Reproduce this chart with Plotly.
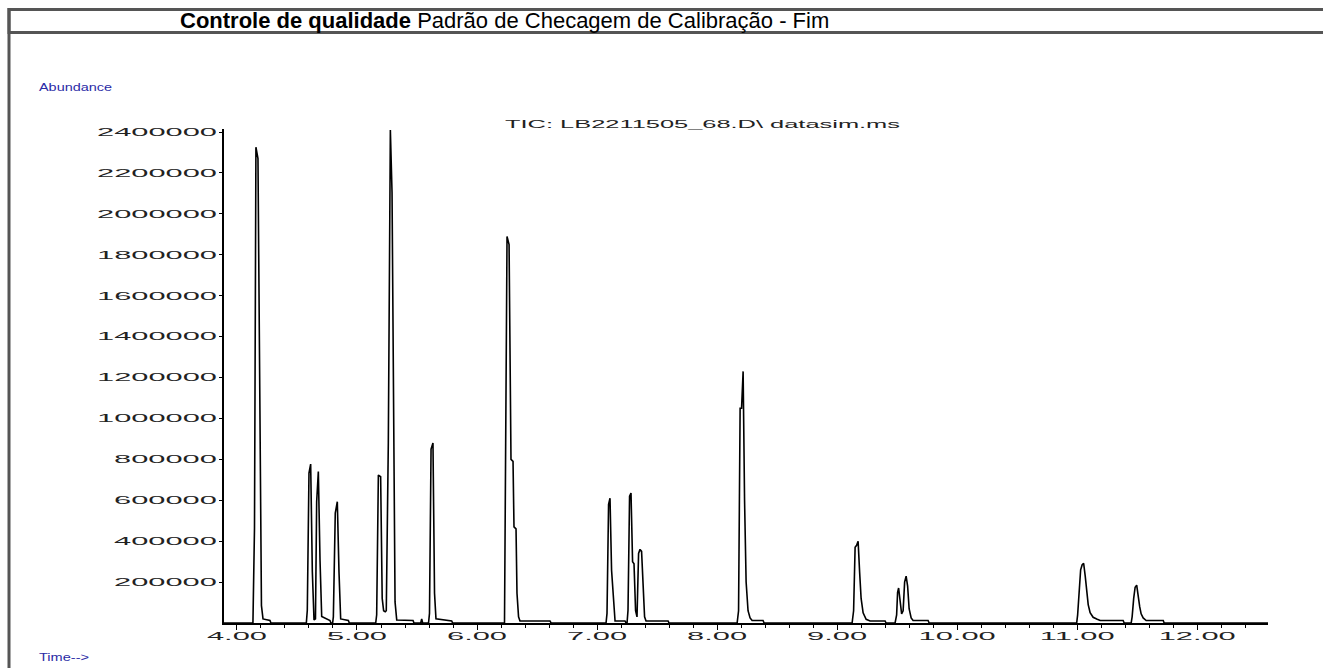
import plotly.graph_objects as go

# ---------------- data ----------------
title_bold = "Controle de qualidade"
title_rest = "Padrão de Checagem de Calibração - Fim"
trace_label = "TIC: LB2211505_68.D\\ datasim.ms"
y_axis_label = "Abundance"
x_axis_label = "Time-->"

x_tick_values = [4, 5, 6, 7, 8, 9, 10, 11, 12]
y_tick_values = [200000, 400000, 600000, 800000, 1000000, 1200000,
                 1400000, 1600000, 1800000, 2000000, 2200000, 2400000]

# retention time (min) and abundance of the TIC trace, peak by peak
scan_time = [
    3.892,
    4.133, 4.146, 4.158, 4.175, 4.192, 4.204, 4.217, 4.275, 4.283,
    4.578, 4.586, 4.600, 4.614, 4.628, 4.642, 4.654, 4.664, 4.678, 4.692, 4.706, 4.775, 4.783,
    4.797, 4.803, 4.819, 4.836, 4.850, 4.864, 4.928, 4.936,
    5.156, 5.164, 5.178, 5.197, 5.210, 5.222, 5.235,
    5.244, 5.261, 5.278, 5.292, 5.303, 5.317, 5.331, 5.467, 5.475,
    5.531, 5.539, 5.547,
    5.596, 5.604, 5.617, 5.633, 5.646, 5.658, 5.789, 5.797,
    6.229, 6.2375, 6.250, 6.267, 6.283, 6.300, 6.308, 6.325, 6.333, 6.346, 6.358, 6.608, 6.617,
    7.075, 7.083, 7.096, 7.108, 7.121, 7.142, 7.150, 7.233, 7.242,
    7.250, 7.258, 7.271, 7.283, 7.296, 7.308, 7.321, 7.333,
    7.346, 7.358, 7.371, 7.383, 7.396, 7.408, 7.592, 7.600,
    8.167, 8.179, 8.192, 8.204, 8.217, 8.229, 8.242, 8.258, 8.275, 8.292, 8.383, 8.392,
    9.125, 9.1375, 9.150, 9.1625, 9.175, 9.1875, 9.200, 9.2167, 9.242, 9.275, 9.400, 9.408,
    9.483, 9.496, 9.504, 9.5125, 9.525, 9.5375, 9.550, 9.5625, 9.575, 9.5875, 9.600, 9.617, 9.633, 9.758, 9.767,
    10.996, 11.004, 11.017, 11.029, 11.042, 11.054, 11.067, 11.079, 11.092, 11.108, 11.133, 11.167, 11.192, 11.383, 11.392,
    11.450, 11.458, 11.471, 11.483, 11.496, 11.508, 11.521, 11.533, 11.550, 11.575, 11.717, 11.725,
    12.59,
]
abundance = [
    0,
    0, 463000, 2326000, 2270000, 880000, 85000, 20000, 12000, 0,
    0, 62000, 733000, 777000, 250000, 15000, 20000, 593000, 740000, 307000, 32000, 12000, 0,
    0, 30000, 537000, 593000, 250000, 20000, 12000, 0,
    0, 40000, 723000, 715000, 120000, 60000, 55000,
    60000, 880000, 2410000, 2105000, 1027000, 103000, 15000, 12000, 0,
    0, 20000, 0,
    0, 47000, 850000, 880000, 145000, 20000, 10000, 0,
    0, 600000, 1890000, 1850000, 800000, 790000, 470000, 460000, 145000, 30000, 10000, 10000, 0,
    0, 47000, 580000, 610000, 258000, 47000, 10000, 10000, 0,
    0, 62000, 620000, 635000, 300000, 290000, 60000, 30000,
    340000, 360000, 350000, 175000, 30000, 10000, 10000, 0,
    0, 60000, 1050000, 1050000, 1230000, 600000, 200000, 60000, 25000, 12000, 12000, 0,
    0, 60000, 370000, 380000, 400000, 250000, 120000, 50000, 18000, 10000, 10000, 0,
    0, 40000, 150000, 171000, 120000, 45000, 60000, 200000, 229000, 180000, 70000, 25000, 12000, 12000, 0,
    0, 40000, 150000, 260000, 285000, 292000, 230000, 150000, 90000, 50000, 28000, 18000, 12000, 12000, 0,
    0, 30000, 120000, 175000, 185000, 130000, 80000, 45000, 25000, 12000, 12000, 0,
    0,
]

# ---------------- layout geometry (pixels) ----------------
W, H = 1323, 668
PL, PR, PT, PB = 224, 1268, 129, 622.7   # plot area


def px(xp):
    return (xp - PL) / (PR - PL)


def py(yp):
    return (PB - yp) / (PB - PT)


BLUE = "#2b2ba6"
FONT = "Liberation Sans, Arial, sans-serif"

fig = go.Figure()
fig.add_trace(go.Scatter(
    x=scan_time, y=abundance, mode="lines",
    line=dict(color="black", width=1.6),
    hoverinfo="skip", showlegend=False,
))

axis_common = dict(
    showline=True, linecolor="black", linewidth=1.8,
    showgrid=False, zeroline=False,
    ticks="outside", tickcolor="black", tickwidth=1.2,
    tickfont=dict(family=FONT, size=11, color="#222"),
)

fig.update_layout(
    width=W, height=H, autosize=False,
    paper_bgcolor="white", plot_bgcolor="white",
    margin=dict(l=PL, r=W - PR, t=PT, b=H - PB, pad=0),
    xaxis=dict(
        range=[3.892, 12.59], tickvals=x_tick_values, tickformat=".2f",
        ticklen=5, ticklabelstandoff=-3,
        minor=dict(dtick=0.2, tick0=4, ticks="outside", ticklen=3,
                   tickcolor="black", tickwidth=1),
        **axis_common,
    ),
    yaxis=dict(
        range=[0, 2415000], tickvals=y_tick_values, tickformat="d",
        ticklen=3,
        **axis_common,
    ),
)

# frame of the report: title box (right side beyond the page) + left rule
frame = dict(color="#555555", width=3)
fig.add_shape(type="rect", xref="paper", yref="paper",
              x0=px(9), x1=px(W + 40), y0=py(32.5), y1=py(9.5),
              line=frame, fillcolor="rgba(0,0,0,0)")
fig.add_shape(type="line", xref="paper", yref="paper",
              x0=px(9), x1=px(9), y0=py(8), y1=py(H + 5), line=frame)

# title
fig.add_annotation(
    xref="paper", yref="paper", x=px(178), y=py(20.5),
    xanchor="left", yanchor="middle", align="left", showarrow=False,
    text="<b>" + title_bold + "</b> " + title_rest,
    font=dict(family=FONT, size=22, color="black"),
)
# TIC label
fig.add_annotation(
    xref="paper", yref="paper", x=px(503), y=py(124),
    xanchor="left", yanchor="middle", align="left", showarrow=False,
    text=trace_label, font=dict(family=FONT, size=11, color="#222"),
)
fig.add_annotation(
    xref="paper", yref="paper", x=px(37), y=py(87),
    xanchor="left", yanchor="middle", align="left", showarrow=False,
    text=y_axis_label, font=dict(family=FONT, size=11, color=BLUE),
)
fig.add_annotation(
    xref="paper", yref="paper", x=px(37), y=py(657),
    xanchor="left", yanchor="middle", align="left", showarrow=False,
    text=x_axis_label, font=dict(family=FONT, size=11, color=BLUE),
)

post_script = """
document.documentElement.style.margin = '0';
document.documentElement.style.overflow = 'hidden';
document.body.style.margin = '0';
document.body.style.overflow = 'hidden';
var gd = document.getElementById('{plot_id}');
function stretchText(t, w){
  t.setAttribute('textLength', w.toFixed(1));
  t.setAttribute('lengthAdjust', 'spacingAndGlyphs');
}
gd.querySelectorAll('.xtick text, .ytick text').forEach(function(t){
  stretchText(t, t.getComputedTextLength() * 2.8);
});
gd.querySelectorAll('.annotation-text').forEach(function(t){
  var s = t.textContent;
  if (s.indexOf('TIC') === 0) { stretchText(t, 395); }
  else if (s.indexOf('Abundance') === 0) { stretchText(t, 73); }
  else if (s.indexOf('Time') === 0) { stretchText(t, 50); }
});
"""

fig.write_html("out.html", post_script=post_script,
               config=dict(displayModeBar=False))
